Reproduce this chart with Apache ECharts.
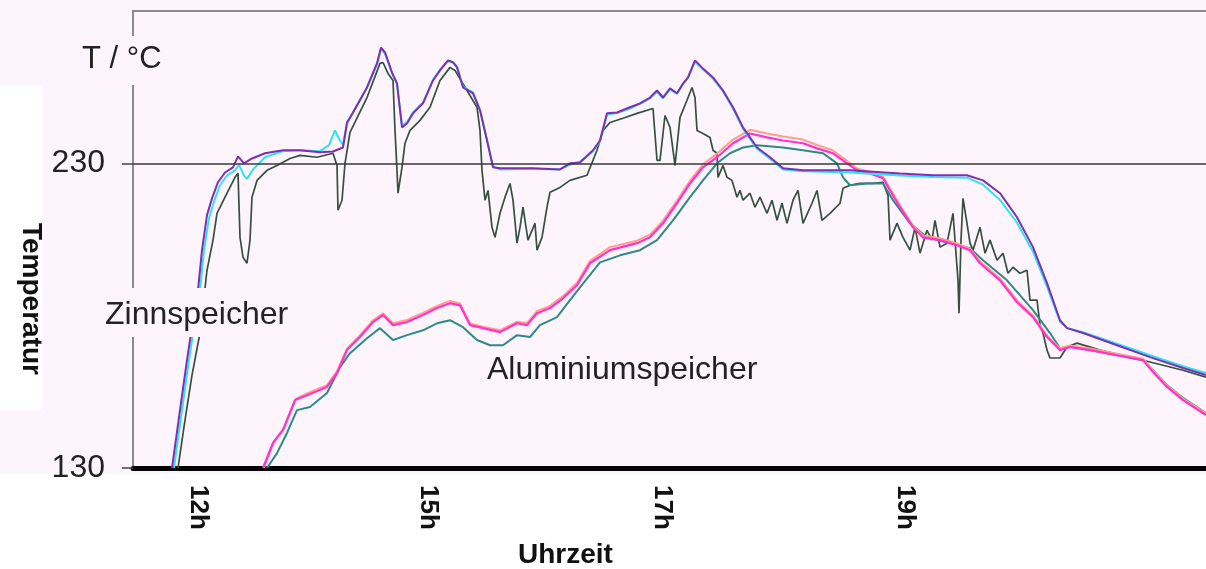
<!DOCTYPE html>
<html>
<head>
<meta charset="utf-8">
<script src="https://cdn.jsdelivr.net/npm/echarts@6/dist/echarts.min.js"></script>
<style>
  html, body { margin: 0; padding: 0; background: #fdf5fc; }
  #chart { width: 1206px; height: 569px; }
</style>
</head>
<body>
<div id="chart"></div>
<script>
// Achsen: x = Messpunkt (10 Punkte je Raster), y = Temperatur in °C
var xTickPos = [6.5, 29.5, 52.9, 77.2]
var xTickNames = ['12h', '15h', '17h', '19h']
var yTicks = [130, 230]

// Zinnspeicher
var zinnViolett = [[3.9,130],[4.7,149.0],[5.4,165.4],[6.0,178.5],[6.5,188.4],[6.9,201.5],[7.4,213.0],[7.9,218.5],[8.5,223.8],[9.2,227.0],[10.0,228.7],[10.5,232.3],[11.1,230.0],[11.9,231.6],[13.2,233.3],[15.0,234.3],[16.7,234.3],[18.7,233.6],[20.0,233.9],[21.0,235.2],[21.4,243.4],[22.0,246.7],[23.4,254.9],[24.4,262.8],[24.8,268.0],[25.2,266.4],[25.9,259.8],[26.4,256.2],[26.9,241.8],[27.4,243.1],[28.0,246.4],[29.0,249.7],[30.0,257.2],[30.7,260.5],[31.5,263.8],[32.0,263.1],[32.4,261.5],[33.0,254.9],[34.0,253.0],[34.7,247.4],[35.4,237.5],[36.0,228.7],[36.7,228.4],[40.0,228.4],[42.7,228.0],[43.7,230.0],[44.7,230.3],[46.0,234.3],[46.7,237.5],[47.4,246.4],[48.4,246.7],[49.7,248.4],[50.7,249.7],[51.7,251.6],[52.4,253.9],[53.0,251.6],[53.7,254.6],[54.4,253.0],[55.0,256.2],[55.5,258.2],[56.2,263.8],[57.0,261.1],[58.0,258.2],[59.0,253.9],[60.0,248.4],[61.0,241.8],[62.4,235.2],[63.7,232.0],[65.0,228.4],[67.0,227.7],[71.7,227.7],[76.7,226.7],[80.0,226.1],[83.4,226.1],[85.0,224.4],[86.7,220.2],[88.4,212.3],[90.0,202.5],[91.4,190.7],[92.7,178.5],[93.4,175.9],[95.0,174.3],[98.4,170.3],[101.7,166.4],[105.0,162.8],[107.3,160.5]]
var zinnCyan = [[4.1,130],[4.9,149.0],[5.6,165.4],[6.2,178.5],[6.7,188.4],[7.1,201.5],[7.6,212.0],[8.1,217.5],[8.7,222.8],[9.4,226.0],[10.2,227.7],[10.6,229.5],[11.1,226.0],[11.4,224.9],[12.0,228.0],[13.2,232.0],[15.0,234.0],[16.7,234.3],[18.7,234.0],[19.6,236.0],[20.2,240.8],[20.6,238.0],[21.0,236.0],[21.4,243.0],[22.0,246.7],[23.4,254.9],[24.4,262.5],[24.8,267.5],[25.2,266.0],[25.9,259.8],[26.4,256.0],[26.9,242.5],[27.4,243.5],[28.0,246.8],[29.0,250.0],[30.0,257.5],[30.7,260.8],[31.5,263.5],[32.0,263.3],[32.4,261.8],[33.0,255.2],[34.0,253.3],[34.7,247.7],[35.4,237.8],[36.0,229.0],[36.7,228.0],[40.0,228.2],[42.7,228.0],[43.7,229.5],[44.7,230.5],[46.0,234.0],[46.7,237.2],[47.4,246.0],[48.4,246.5],[49.7,248.0],[50.7,249.5],[51.7,251.3],[52.4,253.5],[53.0,251.3],[53.7,254.3],[54.4,252.8],[55.0,256.0],[55.5,258.0],[56.2,263.3],[57.0,260.8],[58.0,257.8],[59.0,253.6],[60.0,248.0],[61.0,241.3],[62.4,234.8],[63.7,231.5],[65.0,228.0],[67.0,227.4],[71.7,227.0],[76.7,226.0],[80.0,225.5],[83.4,225.3],[85.0,223.0],[86.7,218.0],[88.4,210.5],[90.0,201.0],[91.4,189.5],[92.7,178.0],[93.4,176.0],[95.0,174.6],[98.4,170.8],[101.7,167.0],[105.0,163.4],[107.3,161.2]]
var zinnGruen = [[4.5,130],[5.2,145.7],[5.9,160.5],[6.7,174.3],[7.4,194.9],[8.0,204.8],[8.4,213.6],[9.4,220.2],[10.2,225.4],[10.5,226.7],[10.7,205.7],[11.0,199.2],[11.4,197.2],[11.7,204.8],[11.9,218.9],[12.4,224.4],[13.4,227.7],[14.4,229.3],[15.7,231.6],[16.7,232.6],[18.4,232.0],[20.0,233.3],[20.4,229.3],[20.5,214.6],[20.9,217.9],[21.2,230.0],[21.7,240.2],[23.4,251.6],[24.7,262.8],[25.0,263.1],[25.5,259.5],[26.0,257.2],[26.2,240.8],[26.4,227.7],[26.5,220.2],[26.9,228.7],[27.2,236.6],[27.7,240.8],[28.7,244.1],[29.7,248.4],[30.7,257.2],[31.7,261.5],[32.2,260.5],[33.4,253.9],[34.4,248.4],[34.7,240.8],[34.9,227.7],[35.2,217.9],[35.5,221.1],[35.9,209.0],[36.2,205.7],[36.7,213.6],[37.2,218.9],[37.7,223.4],[38.0,217.9],[38.4,203.8],[38.7,209.0],[39.0,215.6],[39.5,204.8],[39.9,208.0],[40.2,210.3],[40.4,201.5],[40.9,205.7],[41.4,215.6],[41.7,220.5],[42.7,222.1],[43.7,224.4],[45.4,226.1],[46.4,234.3],[47.0,240.8],[47.7,243.4],[49.0,244.8],[50.4,246.4],[52.0,248.0],[52.4,231.0],[52.7,231.0],[53.2,245.7],[53.7,241.8],[54.2,229.3],[54.7,245.1],[55.4,250.7],[55.9,254.9],[56.2,251.6],[56.4,240.8],[57.0,239.8],[57.7,238.5],[58.0,234.3],[58.4,233.3],[58.5,225.4],[59.0,229.3],[59.4,225.4],[59.9,224.4],[60.4,218.9],[60.7,221.1],[61.0,217.9],[61.7,220.2],[62.2,215.6],[62.7,218.9],[63.4,213.6],[63.9,217.9],[64.4,211.3],[64.9,216.9],[65.4,210.3],[66.0,217.9],[66.5,221.1],[67.0,210.3],[67.9,216.9],[68.4,221.1],[68.9,211.3],[69.7,213.6],[70.7,216.9],[71.0,221.8],[71.7,222.8],[72.7,223.4],[74.0,223.4],[75.0,223.8],[75.5,219.5],[75.7,204.8],[76.4,210.3],[77.0,205.7],[77.7,201.5],[78.2,209.0],[78.7,200.5],[79.4,208.0],[79.9,204.8],[80.2,211.3],[80.7,202.5],[81.4,203.8],[82.0,213.6],[82.5,191.6],[82.6,180.8],[82.8,204.8],[83.0,218.5],[83.4,210.3],[83.7,203.8],[84.0,201.5],[84.7,209.0],[85.2,200.5],[85.7,204.8],[86.4,198.2],[87.0,200.5],[87.5,193.9],[88.0,195.9],[88.7,193.9],[89.4,194.9],[89.7,185.1],[90.4,185.1],[90.7,176.9],[91.0,174.3],[91.4,168.7],[91.7,166.1],[92.7,166.1],[93.4,169.7],[94.4,171.0],[96.7,168.7],[100.0,166.1],[101.7,164.8],[105.0,162.1],[107.3,159.8]]

// Aluminiumspeicher
var aluMagenta = [[13.0,130],[14.0,138.2],[15.0,142.5],[16.2,152.3],[17.4,153.9],[19.4,156.6],[20.4,161.1],[21.4,168.7],[22.7,173.0],[24.0,177.9],[25.0,180.2],[26.0,176.9],[27.4,177.9],[29.0,180.2],[30.4,182.5],[31.7,184.1],[32.7,183.4],[33.7,176.9],[35.0,175.9],[36.7,174.6],[38.4,177.5],[39.4,176.9],[40.4,180.8],[41.7,182.5],[43.0,185.7],[44.4,190.0],[45.7,197.2],[47.7,201.5],[50.4,203.8],[51.7,205.7],[53.0,210.3],[54.4,216.9],[55.7,223.4],[57.0,228.7],[58.4,232.0],[60.0,236.6],[61.7,239.8],[63.4,238.5],[65.0,237.5],[67.0,236.6],[68.4,234.9],[70.0,233.3],[71.4,230.0],[72.4,227.7],[73.7,226.7],[75.0,225.1],[75.7,221.1],[76.7,215.6],[78.0,209.0],[79.0,205.7],[80.7,204.8],[82.4,203.1],[83.7,201.5],[84.7,197.2],[86.7,191.6],[88.4,184.4],[90.0,179.5],[91.4,173.0],[92.7,168.7],[93.7,169.7],[95.7,168.7],[98.4,167.0],[101.0,165.4],[102.0,161.5],[103.4,156.6],[105.0,152.3],[107.3,147.4]]
var aluLachs = [[13.1,130],[14.1,138.8],[15.1,143.0],[16.3,152.8],[17.4,154.5],[19.4,157.2],[20.4,161.8],[21.4,169.2],[22.7,173.6],[24.0,178.5],[25.0,180.8],[26.0,177.5],[27.4,178.6],[29.0,180.9],[30.4,183.2],[31.7,184.8],[32.7,184.0],[33.7,177.4],[35.0,176.4],[36.7,175.2],[38.4,178.0],[39.4,177.6],[40.4,181.5],[41.7,183.2],[43.0,186.4],[44.4,190.8],[45.7,198.0],[47.7,202.5],[50.4,204.6],[51.7,206.6],[53.0,211.2],[54.4,217.8],[55.7,224.3],[57.0,229.7],[58.4,233.2],[60.0,237.8],[61.7,241.0],[63.4,239.8],[65.0,238.8],[67.0,237.8],[68.4,236.0],[70.0,234.2],[71.4,230.8],[72.4,228.3],[73.7,227.2],[75.0,225.6],[75.7,221.8],[76.7,216.2],[78.0,209.6],[79.0,206.3],[80.7,205.4],[82.4,203.7],[83.7,202.0],[84.7,197.8],[86.7,192.2],[88.4,185.0],[90.0,180.0],[91.4,173.5],[92.7,169.2],[93.7,170.2],[95.7,169.2],[98.4,167.5],[101.0,165.9],[102.0,162.0],[103.4,157.1],[105.0,152.8],[107.3,147.9]]
var aluTuerkis = [[13.4,130],[14.4,134.9],[15.4,141.5],[16.4,149.0],[17.7,150.0],[19.4,154.6],[20.7,163.1],[21.7,167.7],[23.4,172.6],[24.7,175.9],[26.0,172.0],[27.4,173.6],[29.0,175.2],[30.4,177.5],[31.7,178.5],[33.0,176.2],[34.4,172.0],[35.7,170.3],[37.0,170.3],[38.4,173.6],[39.7,173.0],[40.7,176.9],[42.4,179.5],[43.7,185.1],[44.7,189.3],[46.7,197.5],[48.7,199.8],[50.7,201.5],[52.4,204.8],[54.0,211.3],[55.7,218.9],[57.0,224.4],[58.4,230.0],[59.7,233.3],[61.0,235.2],[62.4,235.9],[65.0,235.2],[67.0,234.3],[69.0,233.3],[70.4,230.0],[71.0,225.4],[71.7,222.8],[73.4,223.4],[75.0,223.4],[76.0,217.9],[77.7,210.3],[79.4,205.7],[81.7,203.8],[83.7,202.1],[85.0,198.2],[87.4,191.6],[90.0,181.8],[91.7,174.3],[92.7,169.3],[93.7,170.0],[95.7,168.7],[98.4,167.0],[101.0,165.4],[102.0,162.1],[103.4,157.2],[105.0,153.0],[107.3,148.0]]

var font = "'Liberation Sans', Arial, sans-serif"
var plotBg = '#fdf4fc'

function kurve(name, data, color, width) {
  return {
    name: name,
    type: 'line',
    data: data,
    showSymbol: false,
    smooth: false,
    lineStyle: { color: color, width: width },
    emphasis: { disabled: true }
  }
}

var myChart = echarts.init(document.getElementById('chart'))
var series = [
  kurve('Zinn grün', zinnGruen, '#34503f', 1.7),
  kurve('Alu türkis', aluTuerkis, '#2e8a88', 2),
  kurve('Alu lachs', aluLachs, '#ff9e90', 2),
  kurve('Alu magenta', aluMagenta, '#ff33cc', 2.2),
  kurve('Zinn cyan', zinnCyan, '#33e2f2', 2),
  kurve('Zinn violett', zinnViolett, '#7f2fb0', 2)
]
// 230-Grad-Linie
series[0].markLine = {
  silent: true,
  symbol: 'none',
  label: { show: false },
  lineStyle: { color: '#3a3a3a', width: 1.5, type: 'solid' },
  data: [{ yAxis: 230 }]
}

var option = {
  animation: false,
  backgroundColor: '#fdf5fc',
  grid: {
    left: 133,
    right: 0,
    top: 11,
    bottom: 101,
    containLabel: false,
    outerBoundsMode: 'none',
    show: true,
    borderWidth: 0,
    backgroundColor: plotBg
  },
  xAxis: [
    {
      type: 'value',
      min: 0,
      max: 107.3,
      position: 'bottom',
      axisLine: { lineStyle: { color: '#000', width: 5 } },
      axisTick: { show: false },
      splitLine: { show: false },
      axisLabel: {
        customValues: xTickPos,
        rotate: -90,
        margin: 17,
        fontFamily: font,
        fontWeight: 'bold',
        fontSize: 26,
        color: '#111',
        formatter: function (v) {
          var i = xTickPos.indexOf(v)
          return i >= 0 ? xTickNames[i] : ''
        }
      }
    },
    {
      type: 'value',
      min: 0,
      max: 107.3,
      position: 'top',
      axisLine: { lineStyle: { color: '#8a8a8a', width: 2 } },
      axisTick: { show: false },
      axisLabel: { show: false },
      splitLine: { show: false }
    }
  ],
  yAxis: {
    type: 'value',
    min: 130,
    max: 280,
    axisLine: { show: true, lineStyle: { color: '#8a8a8a', width: 2 } },
    axisTick: { show: true, customValues: yTicks, length: 11, lineStyle: { color: '#444', width: 1.5 } },
    splitLine: { show: false },
    axisLabel: {
      customValues: yTicks,
      margin: 28,
      fontFamily: font,
      fontSize: 32,
      color: '#222'
    }
  },
  graphic: [
    {
      type: 'rect', z: -5, silent: true,
      shape: { x: 0, y: 474, width: 1206, height: 95 },
      style: { fill: '#ffffff' }
    },
    {
      type: 'rect', z: -5, silent: true,
      shape: { x: 0, y: 85, width: 42, height: 325 },
      style: { fill: '#ffffff' }
    },
    {
      type: 'text', z: 100, x: 31, y: 223, rotation: -Math.PI / 2,
      style: { text: 'Temperatur', font: 'bold 28px ' + font, fill: '#111', align: 'left', verticalAlign: 'middle' }
    },
    {
      type: 'text', z: 100, left: 518, top: 541,
      style: { text: 'Uhrzeit', font: 'bold 28px ' + font, fill: '#111' }
    },
    {
      type: 'text', z: 100, left: 82, top: 36,
      style: { text: 'T / °C', font: '31px ' + font, fill: '#222', backgroundColor: plotBg, padding: [8, 2, 10, 0] }
    },
    {
      type: 'text', z: 100, left: 105, top: 288,
      style: { text: 'Zinnspeicher', font: '32px ' + font, fill: '#222', backgroundColor: plotBg, padding: [11, 0, 6, 0] }
    },
    {
      type: 'text', z: 100, left: 487, top: 354,
      style: { text: 'Aluminiumspeicher', font: '32px ' + font, fill: '#222', backgroundColor: plotBg, padding: [0, 0, 2, 0] }
    }
  ],
  series: series
}
myChart.setOption(option)
window.addEventListener('resize', function () {
  myChart.resize()
})
</script>
</body>
</html>
